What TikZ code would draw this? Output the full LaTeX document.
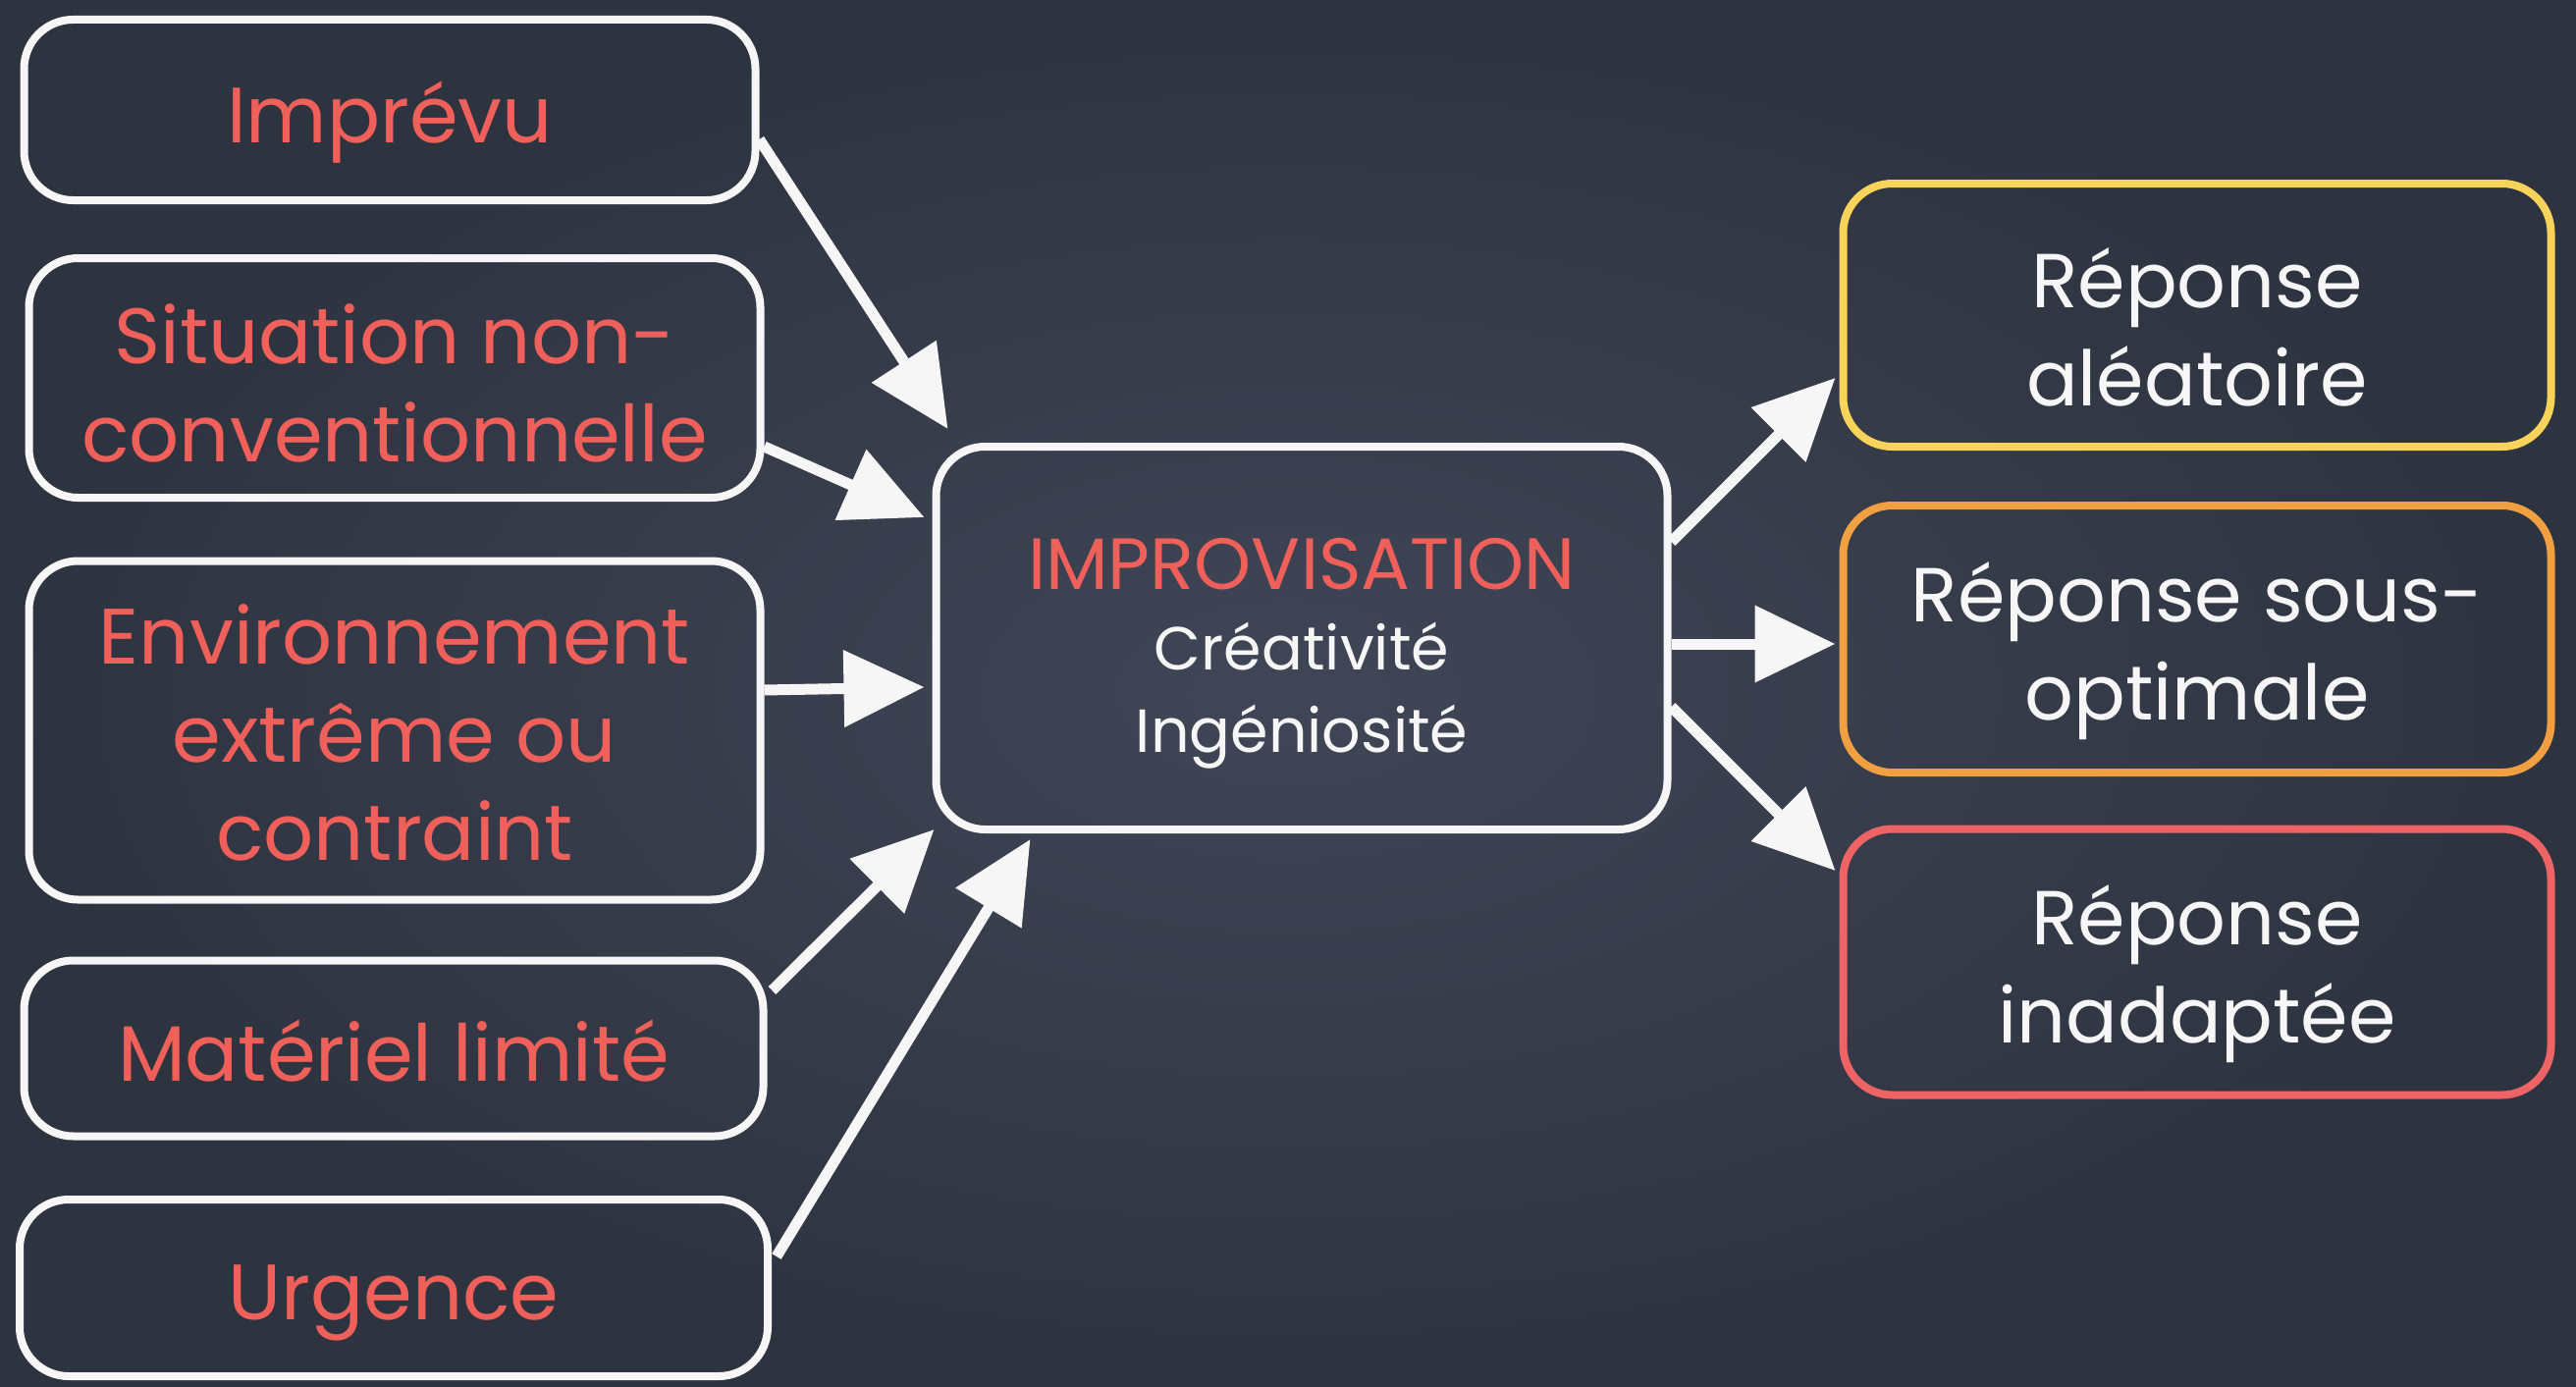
\documentclass[tikz,border=0pt]{standalone}
\usepackage{fontspec}
\setmainfont{Poppins}
\usetikzlibrary{arrows.meta,calc}
\definecolor{boardin}{RGB}{64,70,86}
\definecolor{boardout}{RGB}{46,51,64}
\definecolor{chalk}{RGB}{246,246,246}
\definecolor{chalkred}{RGB}{240,96,90}
\definecolor{chalkyellow}{RGB}{247,211,90}
\definecolor{chalkorange}{RGB}{240,160,64}
\definecolor{chalkpink}{RGB}{238,100,100}
\begin{document}
\begin{tikzpicture}[x=0.5pt,y=-0.5pt,
  box/.style={draw=chalk, line width=4pt, rounded corners=25pt, inner sep=0pt},
  lbox/.style={box, minimum width=372.5pt},
  rbox/.style={box, minimum width=360.5pt},
  ltext/.style={align=center, text=chalkred, inner sep=0pt, font=\fontsize{40}{50}\selectfont},
  rtext/.style={align=center, text=chalk, inner sep=0pt, font=\fontsize{39}{50}\selectfont},
  arr/.style={draw=chalk, line width=5.5pt, -{Triangle[length=41pt,width=38pt]}}]
\shade[inner color=boardin, outer color=boardout] (0,0) rectangle (2624,1413);
\useasboundingbox (0,0) rectangle (2624,1413);
% left boxes
\node[lbox, minimum height=92pt] (imp) at (397,112) {};
\node[lbox, minimum height=122pt] (sit) at (402,385) {};
\node[lbox, minimum height=172.5pt] (env) at (402,744) {};
\node[lbox, minimum width=376.5pt, minimum height=89.5pt] (mat) at (401,1068) {};
\node[lbox, minimum width=381pt, minimum height=90pt] (urg) at (401,1312) {};
\node[ltext] (impt) at ($(imp)+(0,13)$) {Imprévu};
\node[ltext] (sitt) at ($(sit)+(0,5)$) {Situation non-\\conventionnelle};
\node[ltext] (envt) at ($(env)+(0,2)$) {Environnement\\extrême ou\\contraint};
\node[ltext] (matt) at ($(mat)+(0,3)$) {Matériel limité};
\node[ltext] (urgt) at ($(urg)+(0,15)$) {Urgence};
% centre
\node[box, minimum width=372.5pt, minimum height=195pt] (c) at (1326,650) {};
\node[align=center, inner sep=0pt, font=\fontsize{31}{42}\selectfont] (ct) at ($(c)+(0,16)$) {%
  {\fontsize{37}{42}\selectfont\color{chalkred}IMPROVISATION}\\[-1pt]
  \color{chalk}Créativité\\
  \color{chalk}Ingéniosité};
% right boxes
\node[rbox, draw=chalkyellow, minimum height=134pt] (r1) at (2238,321) {};
\node[rbox, draw=chalkorange, minimum height=136pt] (r2) at (2238,651) {};
\node[rbox, draw=chalkpink, minimum height=135.5pt] (r3) at (2238,980) {};
\node[rtext] (r1t) at ($(r1)+(0,12)$) {Réponse\\aléatoire};
\node[rtext] (r2t) at ($(r2)+(0,12)$) {Réponse sous-\\optimale};
\node[rtext] (r3t) at ($(r3)+(0,12)$) {Réponse\\inadaptée};
% arrows in
\draw[arr] ($(imp.east)+(0,30)$) -- ($(c.north west)+(16,-14)$);
\draw[arr] ($(sit.east)+(0,70)$) -- ($(c.west)+(-8,-123)$);
\draw[arr] ($(env.east)+(0,-41)$) -- ($(c.west)+(-8,50)$);
\draw[arr] ($(mat.east)+(5,-59)$) -- ($(c.south west)+(2,-4)$);
\draw[arr] ($(urg.east)+(5,-32)$) -- ($(c.south west)+(100,6)$);
% arrows out
\draw[arr] ($(c.east)+(0,-98)$) -- ($(r1.west)+(-4,64)$);
\draw[arr] ($(c.east)+(0,6)$) -- ($(r2.west)+(-4,5)$);
\draw[arr] ($(c.east)+(0,70)$) -- ($(r3.west)+(-4,-93)$);
\end{tikzpicture}
\end{document}
